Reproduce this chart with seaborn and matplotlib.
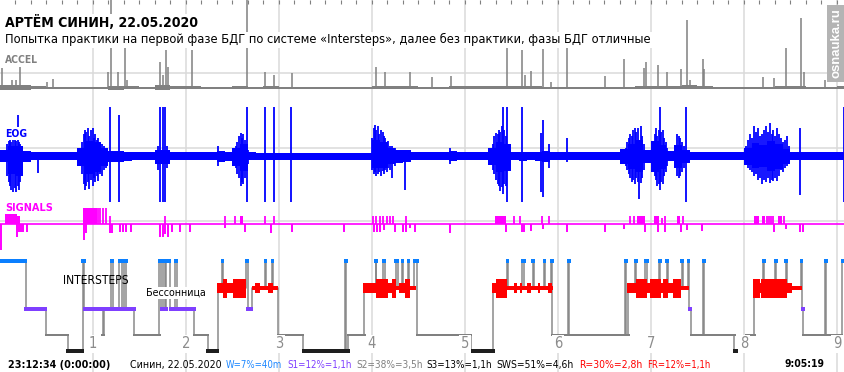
import numpy as np
import matplotlib
matplotlib.use("Agg")
import matplotlib.pyplot as plt
from matplotlib import font_manager
import seaborn as sns

# ------------------------------------------------------------------ data
T_END = 545.2          # minutes of recording shown
HOUR_LABELS = ["1", "2", "3", "4", "5", "6", "7", "8", "9"]

TITLE = "АРТЁМ СИНИН, 22.05.2020"
SUBTITLE = "Попытка практики на первой фазе БДГ по системе «Intersteps», далее без практики, фазы БДГ отличные"
START_LABEL = "23:12:34 (0:00:00)"
END_LABEL = "9:05:19"
STATS_TEXT = ["Синин, 22.05.2020", "W=7%=40m", "S1=12%=1,1h", "S2=38%=3,5h",
              "S3=13%=1,1h", "SWS=51%=4,6h", "R=30%=2,8h", "FR=12%=1,1h"]
STATS_KEY = ["name", "W", "S1", "S2", "S3", "SWS", "R", "R"]

# hypnogram (minutes from start, stage)
hyp_time = [0.0, 16.6, 29.7, 43.7, 53.4, 54.4, 66.3, 67.1, 71.8, 72.9,
            76.8, 78.4, 80.3, 81.6, 86.6, 102.8, 103.9, 105.0, 106.5, 107.4,
            109.7, 113.2, 114.2, 125.4, 134.0, 140.5, 143.2, 143.9, 158.7, 159.7,
            162.3, 171.0, 171.6, 175.5, 176.1, 179.4, 195.5, 222.8, 223.4, 224.7,
            235.0, 242.3, 242.9, 247.4, 248.4, 255.2, 256.5, 259.4, 260.0, 263.2,
            263.9, 267.3, 269.2, 303.9, 318.3, 327.1, 327.7, 337.0, 338.4, 343.7,
            344.3, 351.0, 351.6, 355.7, 356.4, 366.6, 367.3, 403.4, 404.1, 405.4,
            409.9, 410.5, 416.3, 417.7, 425.4, 426.0, 430.1, 430.8, 439.8, 440.4,
            443.9, 444.5, 445.8, 453.7, 454.4, 473.7, 481.7, 486.6, 492.5, 493.1,
            500.2, 500.8, 506.9, 507.7, 516.8, 517.4, 518.4, 532.5, 533.1, 543.2]
hyp_stage = ["W", "S1", "S2", "S3", "W", "S1", "S2", "S1", "W", "S1",
             "W", "S1", "W", "S1", "S2", "W", "S1", "W", "S1", "W",
             "S1", "W", "S1", "S2", "S3", "R", "W", "R", "W", "S1",
             "R", "W", "R", "W", "R", "S2", "S3", "W", "S3", "S2",
             "R", "W", "R", "W", "R", "W", "R", "W", "R", "W",
             "R", "W", "S2", "S3", "R", "W", "R", "W", "R", "W",
             "R", "W", "R", "W", "S2", "W", "S2", "W", "S2", "R",
             "W", "R", "W", "R", "W", "R", "W", "R", "W", "R",
             "W", "S1", "S2", "W", "S2", "S3", "S2", "R", "W", "R",
             "W", "R", "W", "R", "W", "S1", "S2", "W", "S2", "W"]

# REM density segments (1 = low, 2 = medium, 3 = high)
rem_start = [139.8, 144.1, 146.6, 150.5,
             162.3, 164.5, 167.7, 173.1, 176.4,
             234.0, 242.6, 250.5, 253.1, 255.3, 257.4, 261.3, 264.5,
             317.6, 319.8, 327.3, 331.8, 333.4, 335.5, 337.0, 340.2, 342.4, 346.9, 348.4, 353.7, 355.9,
             404.3, 410.3, 417.6, 419.4, 426.3, 427.9, 431.2, 434.4, 439.4,
             486.0, 490.3, 491.0, 507.9, 510.8]
rem_end = [144.1, 146.6, 150.5, 158.7,
           164.5, 167.7, 173.1, 176.4, 179.4,
           242.6, 250.5, 253.1, 255.3, 257.4, 261.3, 264.5, 268.4,
           319.8, 327.3, 331.8, 333.4, 335.5, 337.0, 340.2, 342.4, 346.9, 348.4, 353.7, 355.9, 357.0,
           410.3, 417.6, 419.4, 426.3, 427.9, 431.2, 434.4, 439.4, 444.5,
           490.3, 491.0, 507.9, 510.8, 517.2]
rem_level = [2, 3, 2, 3,
             1, 2, 1, 2, 1,
             2, 3, 2, 3, 1, 2, 3, 1,
             2, 3, 1, 2, 1, 2, 1, 2, 1, 2, 1, 2, 1,
             2, 3, 2, 3, 2, 3, 2, 3, 1,
             3, 2, 3, 2, 1]

# ACCEL: background envelope per 10-min bin, plus spikes
ACCEL_BIN = 10.0
accel_hi = [3, 3, 2, 1.5, 1.2, 1.2, 1.5, 2.5, 2, 1.5, 3, 2, 2, 1.5, 1.5, 1.8, 1.5, 1.8, 1.5, 1.5,
            1.5, 1.5, 1.5, 1.5, 2.5, 2, 1.8, 1.5, 1.5, 2, 1.8, 1.8, 2.5, 2, 1.8, 1.5, 1.5, 1.2, 1.5, 1.5,
            1.5, 2, 2, 2, 3, 2, 1.5, 1.5, 1.5, 1.5, 1.8, 2, 1.5, 1.5, 2]
accel_lo = [1.5, 1.5, 1.2, 1, 1, 1, 1, 1.5, 1.2, 1, 1.5, 1.2, 1.2, 1, 1, 1, 1, 1, 1, 1,
            1, 1, 1, 1, 1.2, 1.2, 1, 1, 1, 0.6, 0.6, 0.6, 0.6, 1, 1, 1, 1, 1, 1.2, 1,
            1, 1, 1, 1, 0.6, 1, 1, 1, 1, 1, 1, 1, 1, 1.2, 1]
accel_spike_t = [1.3, 7.7, 10.3, 12.9, 30.3, 34.2, 69.7, 71.6, 76.1, 80.6,
                 81.9, 103.2, 105.0, 107.1, 108.4, 123.9, 159.2, 171.0, 176.8, 188.4,
                 242.6, 248.4, 264.5, 278.9, 290.8, 326.9, 337.0, 338.7, 342.6, 350.1,
                 355.3, 366.0, 390.5, 402.6, 415.7, 416.6, 424.7, 430.1, 439.2, 443.0,
                 445.2, 453.4, 454.2, 492.5, 499.4, 507.1, 516.6, 518.7, 532.3]
accel_spike_h = [20, 8, 8, 23, 6, 9, 16, 90, 16, 41,
                 8, 26, 13, 38, 21, 38, 90, 16, 13, 15,
                 21, 16, 16, 11, 12, 40, 38, 13, 17, 39,
                 6, 40, 12, 29, 20, 26, 23, 16, 19, 68,
                 8, 29, 19, 11, 10, 40, 70, 16, 8]

# EOG: core envelope per 5-min bin (up / down), plus individual deflections
EOG_BIN = 5.0
eog_up = [6, 10, 10, 5, 4, 4, 4, 4, 4, 4, 8, 15, 14, 8, 5, 5, 4, 4, 4, 4,
          6, 6, 4, 4, 4, 4, 4, 4, 5, 4, 8, 12, 4,
          3.5, 3.5, 3.5, 3.5, 3.5, 3.5, 3.5, 3.5, 3.5, 3.5, 3.5, 3.5, 3.5, 3.5, 3.5,
          16, 14, 8, 6, 6, 4, 4, 4, 4, 4, 5, 4, 4, 4, 4,
          8, 14, 12, 4, 4, 4, 4, 5, 4, 4, 4, 4, 4, 4, 4, 4,
          4, 7, 12, 16, 6, 15, 11, 5, 11, 6, 4, 4, 4, 4, 4, 4,
          4, 8, 13, 11, 15, 12, 7, 4, 4, 4, 4, 4, 4, 4]
eog_dn = [6, 18, 20, 6, 4, 4, 4, 4, 4, 4, 10, 18, 16, 10, 6, 6, 5, 4, 4, 4,
          8, 8, 4, 4, 4, 4, 4, 4, 6, 5, 10, 15, 4,
          3.5, 3.5, 3.5, 3.5, 3.5, 3.5, 3.5, 3.5, 3.5, 3.5, 3.5, 3.5, 3.5, 3.5, 3.5,
          12, 12, 8, 7, 6, 4, 4, 4, 4, 4, 5, 4, 4, 4, 4,
          9, 16, 15, 4, 5, 4, 5, 6, 4, 4, 4, 4, 4, 4, 4, 4,
          4, 8, 13, 16, 7, 16, 13, 5, 12, 7, 4, 4, 4, 4, 4, 4,
          4, 9, 12, 11, 15, 13, 8, 4, 4, 4, 4, 4, 4, 4]
eog_spike_t = [4.5, 5.5, 6.5, 7.4, 8.4, 9.4, 10.3, 11.3, 12.3, 13.2, 14.2,
               24.5,
               52.9, 53.9, 54.8, 55.8, 56.8, 57.7, 58.7, 59.7, 60.6, 61.6, 62.6, 63.5, 64.5, 65.8, 67.1, 68.4,
               71.0, 76.8,
               101.9, 103.2, 105.2, 106.5, 107.7,
               140.6,
               152.3, 153.2, 154.2, 155.2, 156.1, 157.1, 158.1, 159.2, 160.0,
               171.0, 176.8, 187.7,
               240.0, 241.0, 241.9, 242.9, 243.9, 244.8, 245.8, 246.8, 247.7, 248.7, 249.7, 250.6, 251.6,
               252.9, 254.8, 261.3,
               290.3,
               318.1, 319.0, 320.0, 321.0, 321.9, 322.9, 323.9, 324.5, 325.5, 326.5, 326.9, 327.7, 329.0,
               337.0, 348.8, 350.3, 354.2, 365.8,
               403.9, 404.8, 405.8, 406.8, 407.7, 408.7, 409.7, 410.6, 411.6, 412.6, 413.5, 414.5, 415.5,
               421.3, 422.3, 423.2, 424.2, 425.2, 425.8, 426.8, 427.7, 428.7, 429.7, 430.6,
               436.1, 437.1, 438.1, 439.0, 440.0, 441.3, 442.6,
               481.3, 482.6, 483.9, 485.2, 486.5, 487.7, 489.0, 490.3, 491.6, 492.9, 494.2, 495.5,
               496.8, 498.1, 499.0, 500.0, 501.3, 502.6, 503.9, 505.2, 506.5, 507.7, 509.0,
               516.1, 544.8]
eog_spike_up = [12, 15, 16, 14, 18, 17, 15, 41, 14, 12, 8,
                0,
                14, 22, 26, 24, 28, 20, 26, 28, 18, 22, 16, 18, 12, 12, 10, 8,
                49, 41,
                10, 49, 49, 49, 10,
                10,
                10, 14, 20, 23, 18, 22, 16, 49, 6,
                49, 49, 49,
                18, 28, 31, 26, 30, 22, 26, 24, 20, 18, 14, 15, 10,
                10, 8, 6,
                8,
                12, 20, 23, 22, 26, 24, 30, 49, 26, 20, 49, 12, 6,
                49, 23, 36, 12, 18,
                8, 14, 18, 22, 20, 26, 28, 24, 28, 12, 30, 20, 12,
                10, 22, 28, 20, 26, 49, 24, 26, 18, 14, 8,
                10, 22, 20, 18, 14, 10, 49,
                10, 16, 22, 18, 30, 24, 28, 20, 22, 26, 30, 24,
                33, 22, 26, 20, 28, 22, 18, 14, 16, 20, 10,
                28, 49]
eog_spike_dn = [20, 26, 30, 34, 36, 32, 36, 30, 34, 26, 16,
                17,
                18, 28, 34, 30, 26, 33, 24, 30, 22, 26, 20, 25, 18, 20, 14, 12,
                46, 46,
                14, 46, 46, 46, 12,
                10,
                12, 18, 22, 30, 26, 28, 22, 46, 8,
                46, 46, 46,
                14, 18, 16, 20, 18, 16, 20, 15, 18, 14, 16, 12, 14,
                22, 10, 34,
                8,
                14, 18, 24, 28, 30, 35, 31, 38, 28, 30, 46, 14, 8,
                46, 36, 41, 12, 6,
                10, 14, 18, 22, 26, 24, 28, 22, 26, 43, 27, 22, 14,
                12, 20, 24, 30, 28, 34, 26, 28, 20, 16, 10,
                12, 20, 22, 20, 16, 12, 46,
                8, 12, 14, 16, 20, 18, 24, 22, 28, 24, 26, 22,
                27, 24, 25, 22, 25, 20, 14, 16, 12, 10, 8,
                39, 46]

# SIGNALS: upward marks (start, end, height) and downward marks (time, depth)
sig_up_start = [3.2, 11.0, 53.5, 63.2, 64.5, 66.5, 68.4, 71.0, 106.5, 145.2,
                151.6, 154.8, 171.0, 176.8, 240.6, 242.6, 245.2, 247.1, 249.7, 251.6,
                253.5, 261.9, 319.4, 331.6, 335.8, 349.7, 354.2, 406.5, 409.0, 411.0,
                421.9, 427.1, 429.0, 436.8, 440.6, 486.5, 491.6, 494.8, 496.1, 497.4,
                498.7, 501.9, 505.8]
sig_up_end = [11.0, 12.9, 62.6, 63.2, 64.5, 66.5, 68.4, 71.0, 106.5, 145.2,
              151.6, 156.8, 171.0, 176.8, 240.6, 242.6, 245.2, 247.1, 249.7, 251.6,
              253.5, 261.9, 326.5, 331.6, 335.8, 349.7, 354.2, 406.5, 409.0, 416.1,
              425.2, 427.1, 429.0, 438.7, 440.6, 489.7, 493.5, 494.8, 496.1, 497.4,
              498.7, 504.5, 505.8]
sig_up_h = [11, 8, 16, 16, 16, 16, 16, 8, 8, 8,
            8, 8, 8, 8, 8, 8, 8, 8, 8, 8,
            8, 8, 8, 8, 8, 8, 8, 8, 8, 8,
            8, 6, 8, 8, 8, 8, 8, 8, 8, 8,
            8, 8, 8]
sig_dn_t = [0.6, 11.0, 12.3, 13.5, 14.8, 17.4, 54.2, 55.5, 71.0, 72.3,
            77.4, 79.4, 81.3, 84.5, 103.2, 105.2, 106.5, 108.4, 111.0, 116.1,
            122.6, 145.2, 158.1, 174.8, 188.4, 221.9, 241.3, 243.2, 245.2, 247.7,
            254.8, 260.0, 261.9, 264.5, 267.7, 290.3, 326.5, 336.8, 338.1, 342.6,
            350.3, 365.8, 390.3, 402.6, 416.1, 424.5, 429.0, 439.4, 443.2, 452.9,
            499.4, 507.1, 516.1, 518.1, 544.9]
sig_dn_d = [26, 13, 8, 8, 8, 8, 16, 9, 9, 9,
            8, 8, 8, 8, 13, 13, 10, 13, 8, 8,
            8, 4, 8, 9, 8, 8, 8, 8, 8, 6,
            8, 8, 8, 4, 8, 9, 8, 8, 8, 7,
            5, 8, 8, 5, 8, 8, 8, 8, 6, 7,
            8, 5, 8, 8, 8]

# ------------------------------------------------------------------ style / layout
W_PX, H_PX = 845, 372
PX = T_END / W_PX                       # minutes per pixel
C_W, C_S1, C_S2, C_S3, C_R = "#0a7fff", "#7f3fff", "#808080", "#1e1e1e", "#ff0000"
C_GRID, C_CONN = "#dadada", "#8a8a8a"
STAGE_Y = {"W": 261, "R": 288, "S1": 309, "S2": 335, "S3": 351}
STAGE_H = {"W": 3.8, "S1": 3.8, "S2": 2.2, "S3": 3.8}
STAGE_C = {"W": C_W, "S1": C_S1, "S2": C_S2, "S3": C_S3}
REM_TH = {1: 4.5, 2: 10, 3: 19}
ACCEL_BASE, EOG_BASE, SIG_BASE = 88, 156, 224

sns.set_theme(style="white")
plt.rcParams["font.family"] = ["Liberation Sans", "DejaVu Sans"]

# a Tahoma-like narrow face if available
_cond = font_manager.FontProperties(family="DejaVu Sans", stretch="condensed")
_cond_path = font_manager.findfont(_cond, fallback_to_default=True)
if "Condensed" in _cond_path:
    TXT_FONT = dict(family="DejaVu Sans", fontstretch="condensed")
else:
    TXT_FONT = dict(family=["Liberation Sans", "DejaVu Sans"])

fig = plt.figure(figsize=(W_PX / 100, H_PX / 100), dpi=100)
fig.patch.set_facecolor("white")
ax = fig.add_axes([0, 0, 1, 1])
ax.set_facecolor("white")

# grid
hours = np.arange(1, len(HOUR_LABELS) + 1) * 60.0
ax.vlines(hours, 0, H_PX, color=C_GRID, lw=1.1, zorder=0)
ax.hlines([73, 147.5, 221], 0, T_END, color=C_GRID, lw=1.1, zorder=0)
ax.vlines(np.arange(10, T_END, 10.0), 0, 4, color="#808080", lw=0.8, zorder=1)

# ACCEL
edges = np.arange(len(accel_hi) + 1) * ACCEL_BIN
hi = np.r_[accel_hi, accel_hi[-1]]
lo = np.r_[accel_lo, accel_lo[-1]]
ax.fill_between(edges, ACCEL_BASE - hi, ACCEL_BASE + lo, step="post",
                color="#808080", lw=0, zorder=2)
ax.vlines(accel_spike_t, ACCEL_BASE - np.array(accel_spike_h), ACCEL_BASE,
          color="#808080", lw=1.1, zorder=2)

# EOG
edges = np.arange(len(eog_up) + 1) * EOG_BIN
ax.fill_between(edges, EOG_BASE - np.r_[eog_up, eog_up[-1]],
                EOG_BASE + np.r_[eog_dn, eog_dn[-1]], step="post",
                color="#0000ff", lw=0, zorder=2)
ax.vlines(eog_spike_t, EOG_BASE - np.array(eog_spike_up), EOG_BASE + np.array(eog_spike_dn),
          color="#0000ff", lw=1.3, zorder=2)

# SIGNALS
ax.hlines(SIG_BASE, 0, T_END, color="#ff00ff", lw=1.2, zorder=2)
s0, s1, sh = np.array(sig_up_start), np.array(sig_up_end), np.array(sig_up_h)
blk = (s1 - s0) > 0
ax.bar(s0[blk], -sh[blk], width=(s1 - s0)[blk], bottom=SIG_BASE, align="edge",
       color="#ff00ff", lw=0, zorder=2)
ax.vlines(s0[~blk], SIG_BASE - sh[~blk], SIG_BASE, color="#ff00ff", lw=1.3, zorder=2)
ax.vlines(sig_dn_t, SIG_BASE, SIG_BASE + np.array(sig_dn_d), color="#ff00ff", lw=1.4, zorder=2)

# hypnogram connectors (step line)
hx = list(hyp_time) + [T_END]
hy = [STAGE_Y[s] for s in hyp_stage] + [STAGE_Y[hyp_stage[-1]]]
sns.lineplot(x=hx, y=hy, ax=ax, drawstyle="steps-post", color=C_CONN, lw=1.1,
             estimator=None, sort=False, zorder=3)

pad = 1.4 * PX
for i, st in enumerate(hyp_stage):
    if st == "R":
        continue
    t0 = hyp_time[i]
    t1 = hyp_time[i + 1] if i + 1 < len(hyp_time) else T_END
    h = STAGE_H[st]
    ax.bar(t0 - pad, h, width=(t1 - t0) + 2 * pad, bottom=STAGE_Y[st] - h / 2,
           align="edge", color=STAGE_C[st], lw=0, zorder=5 if st == "W" else 4)

r0, r1 = np.array(rem_start), np.array(rem_end)
th = np.array([REM_TH[v] for v in rem_level])
ax.bar(r0, th, width=r1 - r0, bottom=STAGE_Y["R"] - th / 2, align="edge",
       color=C_R, lw=0, zorder=4)

ax.set_xlim(0, T_END)
ax.set_ylim(H_PX, 0)
ax.set_xlabel("")
ax.set_ylabel("")
ax.axis("off")
if ax.get_legend():
    ax.get_legend().remove()

# ------------------------------------------------------------------ text
renderer = fig.canvas.get_renderer()
WHITE = dict(facecolor="white", edgecolor="none", pad=1.0)


def put(x, y, s, width=None, size=9, ha="left", font=None, **kw):
    f = TXT_FONT if font is None else font
    t = fig.text(x / W_PX, 1 - y / H_PX, s, fontsize=size, ha=ha, va="baseline", **f, **kw)
    if width is not None:
        w = t.get_window_extent(renderer).width
        t.set_fontsize(size * width / w)
    return t


put(5, 27.3, TITLE, width=193, size=11, weight="bold", color="black", bbox=WHITE, zorder=10)
put(5, 43.5, SUBTITLE, width=645, size=9, color="black", bbox=WHITE, zorder=10)
put(5, 63.3, "ACCEL", width=33, size=8, weight="bold", color="#808080", bbox=WHITE, zorder=10)
put(5, 136.7, "EOG", width=22, size=8, weight="bold", color="#0000ff", bbox=WHITE, zorder=10)
put(5, 210.7, "SIGNALS", width=48, size=8, weight="bold", color="#ff00ff", bbox=WHITE, zorder=10)
put(62.7, 284.3, "INTERSTEPS", width=66, size=9, color="black", zorder=10)
put(146, 296.0, "Бессонница", width=60, size=9, color="black", bbox=WHITE, zorder=10)

for hr, lab in zip(hours, HOUR_LABELS):
    put(hr / PX, 348.5, lab, size=10.5, ha="center", color="#8c8c8c", bbox=WHITE, zorder=10)

put(8, 368.3, START_LABEL, width=101, size=8, weight="bold", color="black")
put(785, 366.8, END_LABEL, width=40, size=8, weight="bold", color="black")

stat_x = [130, 225.7, 287.3, 356.7, 426, 496.7, 579, 646.7]
stat_w = [90.7, 56, 65, 66.3, 65.7, 77.3, 63.3, 63.3]
stat_col = {"name": "black", "W": "#1e88ff", "S1": "#7f3fff", "S2": "#808080",
            "S3": "black", "SWS": "black", "R": "#ff0000"}
for s, k, x, w in zip(STATS_TEXT, STATS_KEY, stat_x, stat_w):
    put(x, 368.3, s, width=w, size=8, color=stat_col[k])

# watermark
fig.patches.append(plt.Rectangle((827 / W_PX, 1 - 82 / H_PX), 18 / W_PX, 77 / H_PX,
                                 transform=fig.transFigure, facecolor="#b4b4b4",
                                 edgecolor="none", zorder=9))
wm = fig.text(836.5 / W_PX, 1 - 43 / H_PX, "osnauka.ru", rotation=90, ha="center",
              va="center", color="white", weight="bold", fontsize=10, zorder=11,
              family=["Liberation Sans", "DejaVu Sans"])
hgt = wm.get_window_extent(renderer).height
wm.set_fontsize(10 * 70 / hgt)

fig.savefig("out.png", dpi=100, facecolor="white")
